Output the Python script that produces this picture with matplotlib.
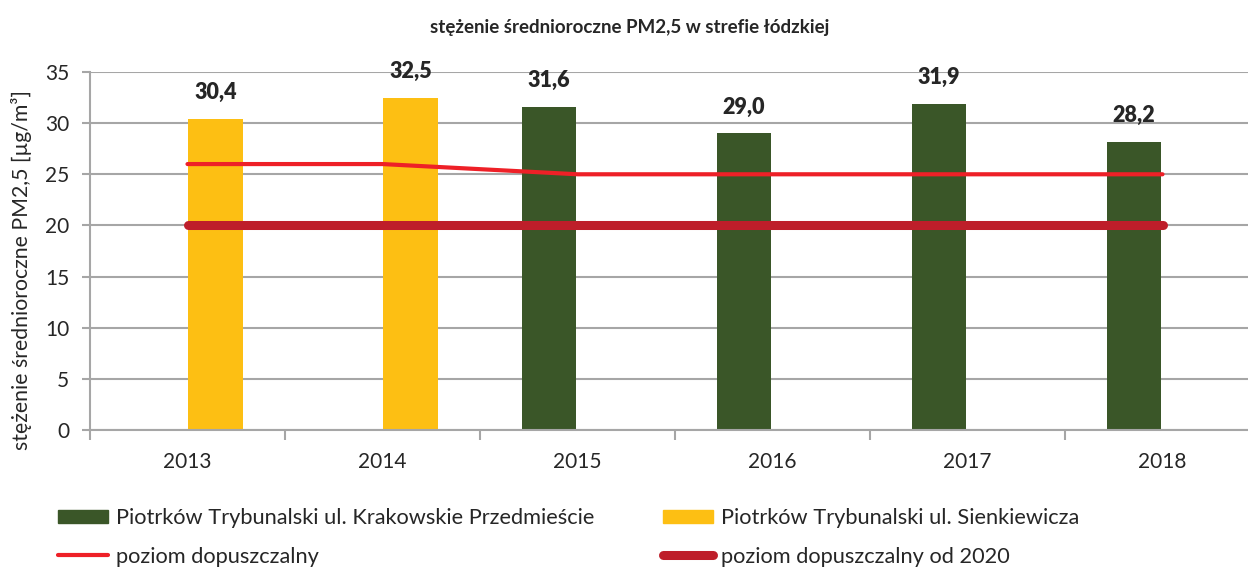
import numpy as np
import matplotlib
matplotlib.use("Agg")
import matplotlib.pyplot as plt
from matplotlib.lines import Line2D
from matplotlib.patches import Patch

plt.rcParams['font.family'] = ['Lato', 'DejaVu Sans']

years = ["2013", "2014", "2015", "2016", "2017", "2018"]
krakowskie = [np.nan, np.nan, 31.6, 29.0, 31.9, 28.2]
sienkiewicza = [30.4, 32.5, np.nan, np.nan, np.nan, np.nan]
poziom = [26, 26, 25, 25, 25, 25]
poziom_2020 = [20, 20, 20, 20, 20, 20]

title = "stężenie średnioroczne PM2,5 w strefie łódzkiej"
ylabel = "stężenie średnioroczne PM2,5 [µg/m³]"
lab_k = "Piotrków Trybunalski ul. Krakowskie Przedmieście"
lab_s = "Piotrków Trybunalski ul. Sienkiewicza"
lab_p = "poziom dopuszczalny"
lab_p20 = "poziom dopuszczalny od 2020"

c_green = "#3A5628"
c_yellow = "#FDBF13"
c_red = "#EE2027"
c_dred = "#BE1E2A"
c_grid = "#A6A6A6"

W, H = 1248, 570
fig = plt.figure(figsize=(W / 100, H / 100), dpi=100)
ax = fig.add_axes([90 / W, 140 / H, 1170 / W, 358 / H])

x = np.arange(len(years))
bw = 0.28
ax.bar(x - 0.147, krakowskie, width=bw, color=c_green, zorder=2)
ax.bar(x + 0.145, sienkiewicza, width=bw, color=c_yellow, zorder=2)
ax.plot(x, poziom, color=c_red, lw=3.0, solid_capstyle='round', zorder=3)
ax.plot(x, poziom_2020, color=c_dred, lw=6.5, solid_capstyle='round', zorder=3)

fs = 15
for xi, v in zip(x, krakowskie):
    if not np.isnan(v):
        ax.annotate(f"{v:.1f}".replace('.', ','), (xi - 0.147, v), xytext=(0, 19),
                    textcoords='offset points', ha='center', va='center',
                    fontsize=fs + 0.5, fontweight='heavy', color='#262626')
for xi, v in zip(x, sienkiewicza):
    if not np.isnan(v):
        ax.annotate(f"{v:.1f}".replace('.', ','), (xi + 0.145, v), xytext=(0, 19),
                    textcoords='offset points', ha='center', va='center',
                    fontsize=fs + 0.5, fontweight='heavy', color='#262626')

ax.set_xlim(-0.5, len(years) - 0.5)
ax.set_ylim(0, 35)
ax.set_yticks(np.arange(0, 36, 5))
ax.yaxis.grid(True, color=c_grid, lw=1.5, zorder=0)
ax.set_axisbelow(True)
ax.tick_params(axis='y', length=6, width=1.5, color=c_grid, labelsize=fs,
               labelcolor='#262626', pad=9)
ax.set_xticks(np.arange(-0.5, len(years), 1.0))
ax.set_xticklabels([])
ax.set_xticks(x, minor=True)
ax.set_xticklabels(years, minor=True)
ax.tick_params(axis='x', which='major', length=7, width=1.5, color=c_grid, direction='out')
ax.tick_params(axis='x', which='minor', length=0, labelsize=fs, labelcolor='#262626', pad=16)
for s in ['top', 'right']:
    ax.spines[s].set_visible(False)
for s in ['left', 'bottom']:
    ax.spines[s].set_color(c_grid)
    ax.spines[s].set_linewidth(1.5)

fig.text(630 / W, 1 - 27 / H, title, ha='center', va='center', fontsize=13.5,
         fontweight='bold', color='#262626')
fig.text(22 / W, 1 - 270 / H, ylabel, rotation=90, ha='center', va='center',
         fontsize=fs + 0.3, color='#262626')

h1 = [Patch(color=c_green), Line2D([], [], color=c_red, lw=3.0, solid_capstyle='round')]
h2 = [Patch(color=c_yellow), Line2D([], [], color=c_dred, lw=6.5, solid_capstyle='round')]
lfs = 15.7
leg_kw = dict(frameon=False, fontsize=lfs, handlelength=2.3, handleheight=0.55,
              handletextpad=0.38, labelspacing=0.85, borderpad=0, borderaxespad=0,
              labelcolor='#262626')
fig.legend(h1, [lab_k, lab_p], loc='upper left', bbox_to_anchor=(58 / W, 1 - 508 / H), **leg_kw)
fig.legend(h2, [lab_s, lab_p20], loc='upper left', bbox_to_anchor=(663 / W, 1 - 508 / H), **leg_kw)

fig.savefig("out.png", dpi=100)
